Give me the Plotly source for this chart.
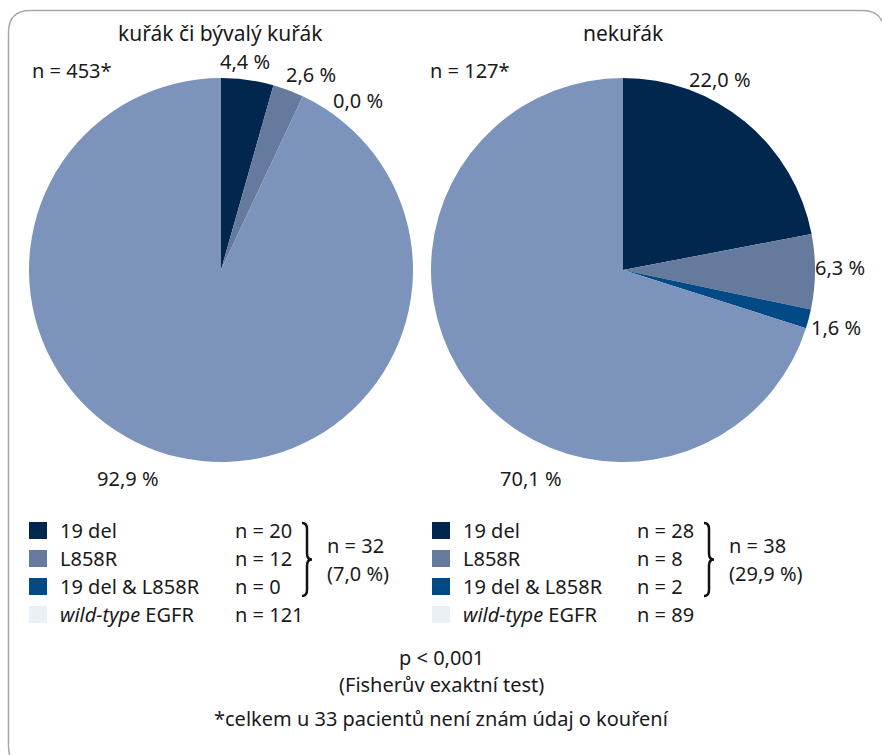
import plotly.graph_objects as go

# --- data -------------------------------------------------------------
categories = ["19 del", "L858R", "19 del & L858R", "wild-type EGFR"]
legend_labels = ["19 del", "L858R", "19 del & L858R", "<i>wild-type</i> EGFR"]

groups = ["kuřák či bývalý kuřák", "nekuřák"]
group_n = [453, 127]

smoker_pct = [4.4, 2.6, 0.0, 92.9]
nonsmoker_pct = [22.0, 6.3, 1.6, 70.1]

smoker_counts = [20, 12, 0, 121]
nonsmoker_counts = [28, 8, 2, 89]

smoker_mut_total = 32
smoker_mut_pct = 7.0
nonsmoker_mut_total = 38
nonsmoker_mut_pct = 29.9

p_text = "p < 0,001"
test_text = "(Fisherův exaktní test)"
footnote = "*celkem u 33 pacientů není znám údaj o kouření"

# --- styling ----------------------------------------------------------
W, H = 882, 755
slice_colors = ["#02274f", "#667a9d", "#024a86", "#7c94bc"]
legend_colors = ["#02274f", "#667a9d", "#024a86", "#e9f0f8"]
FONT = "Noto Sans"
TXT = "#1a1a1a"
FS = 20


def px(x):
    return x / W


def py(y):
    return 1 - y / H


def fmt(v):
    return f"{v:.1f}".replace(".", ",") + " %"


# pie placement (pixel boxes) and label anchor points
pie_boxes = [(29, 78, 413, 462), (431, 78, 815, 462)]
title_x = [221, 623]
n_x = [30, 428]
label_xy = [
    [(245, 62), (311, 75), (358, 100), (128, 478)],
    [(720, 80), (840, 267), (836, 327), (531, 478)],
]
legend_x0 = [29, 432]
count_x = [233, 635]
brace_x = [302, 704]
total_x = [325, 727]
row_y = [530, 558, 586, 614]

fig = go.Figure()
annotations = []
shapes = []

pct_sets = [smoker_pct, nonsmoker_pct]
count_sets = [smoker_counts, nonsmoker_counts]
totals = [(smoker_mut_total, smoker_mut_pct), (nonsmoker_mut_total, nonsmoker_mut_pct)]

for i in range(2):
    x0, y0, x1, y1 = pie_boxes[i]
    fig.add_trace(go.Pie(
        labels=categories,
        values=pct_sets[i],
        marker=dict(colors=slice_colors, line=dict(width=0)),
        sort=False,
        direction="clockwise",
        rotation=0,
        textinfo="none",
        hoverinfo="label+percent",
        domain=dict(x=[px(x0), px(x1)], y=[py(y1), py(y0)]),
        showlegend=False,
    ))

    # group title and n
    annotations.append(dict(x=px(title_x[i]), y=py(33), text=groups[i],
                            showarrow=False, xanchor="center", yanchor="middle",
                            font=dict(size=21, color=TXT)))
    annotations.append(dict(x=px(n_x[i]), y=py(71), text=f"n = {group_n[i]}*",
                            showarrow=False, xanchor="left", yanchor="middle",
                            font=dict(size=FS, color=TXT)))

    # slice value labels
    for v, (lx, ly) in zip(pct_sets[i], label_xy[i]):
        annotations.append(dict(x=px(lx), y=py(ly), text=fmt(v), showarrow=False,
                                xanchor="center", yanchor="middle",
                                font=dict(size=FS, color=TXT)))

    # legend rows
    for k in range(4):
        yc = row_y[k]
        shapes.append(dict(type="rect", xref="paper", yref="paper",
                           x0=px(legend_x0[i]), x1=px(legend_x0[i] + 18),
                           y0=py(yc + 9), y1=py(yc - 8),
                           fillcolor=legend_colors[k], line=dict(width=0)))
        annotations.append(dict(x=px(legend_x0[i] + 29), y=py(yc), text=legend_labels[k],
                                showarrow=False, xanchor="left", yanchor="middle",
                                font=dict(size=FS, color=TXT)))
        annotations.append(dict(x=px(count_x[i]), y=py(yc), text=f"n = {count_sets[i][k]}",
                                showarrow=False, xanchor="left", yanchor="middle",
                                font=dict(size=FS, color=TXT)))

    # curly brace grouping the mutation rows
    bx = brace_x[i]
    ya, yb = 523, 596
    ym = (ya + yb) / 2
    p = (f"M {px(bx)} {py(ya)} "
         f"Q {px(bx + 5)} {py(ya)} {px(bx + 5)} {py(ya + 6)} "
         f"L {px(bx + 5)} {py(ym - 6)} "
         f"Q {px(bx + 5)} {py(ym)} {px(bx + 10)} {py(ym)} "
         f"Q {px(bx + 5)} {py(ym)} {px(bx + 5)} {py(ym + 6)} "
         f"L {px(bx + 5)} {py(yb - 6)} "
         f"Q {px(bx + 5)} {py(yb)} {px(bx)} {py(yb)}")
    shapes.append(dict(type="path", xref="paper", yref="paper", path=p,
                       line=dict(color="#111111", width=2.5)))

    tot, tp = totals[i]
    annotations.append(dict(x=px(total_x[i]), y=py(545), text=f"n = {tot}",
                            showarrow=False, xanchor="left", yanchor="middle",
                            font=dict(size=FS, color=TXT)))
    annotations.append(dict(x=px(total_x[i]), y=py(573),
                            text="(" + fmt(tp) + ")",
                            showarrow=False, xanchor="left", yanchor="middle",
                            font=dict(size=FS, color=TXT)))

# statistics and footnote
for t, y in [(p_text, 657), (test_text, 684), (footnote, 718)]:
    annotations.append(dict(x=px(441), y=py(y), text=t, showarrow=False,
                            xanchor="center", yanchor="middle",
                            font=dict(size=FS, color=TXT)))

# rounded outer frame
r = 22
fx0, fy0, fx1, fy1 = 8.5, 10.5, 884, 768
frame = (f"M {px(fx0 + r)} {py(fy0)} L {px(fx1 - r)} {py(fy0)} "
         f"Q {px(fx1)} {py(fy0)} {px(fx1)} {py(fy0 + r)} "
         f"L {px(fx1)} {py(fy1 - r)} Q {px(fx1)} {py(fy1)} {px(fx1 - r)} {py(fy1)} "
         f"L {px(fx0 + r)} {py(fy1)} Q {px(fx0)} {py(fy1)} {px(fx0)} {py(fy1 - r)} "
         f"L {px(fx0)} {py(fy0 + r)} Q {px(fx0)} {py(fy0)} {px(fx0 + r)} {py(fy0)} Z")
shapes.append(dict(type="path", xref="paper", yref="paper", path=frame,
                   line=dict(color="#a8a8a8", width=1.5), layer="below"))

fig.update_layout(
    width=W, height=H,
    margin=dict(l=0, r=0, t=0, b=0),
    paper_bgcolor="white", plot_bgcolor="white",
    font=dict(family=FONT, color=TXT),
    annotations=annotations,
    shapes=shapes,
    showlegend=False,
)

fig.write_html("out.html")
